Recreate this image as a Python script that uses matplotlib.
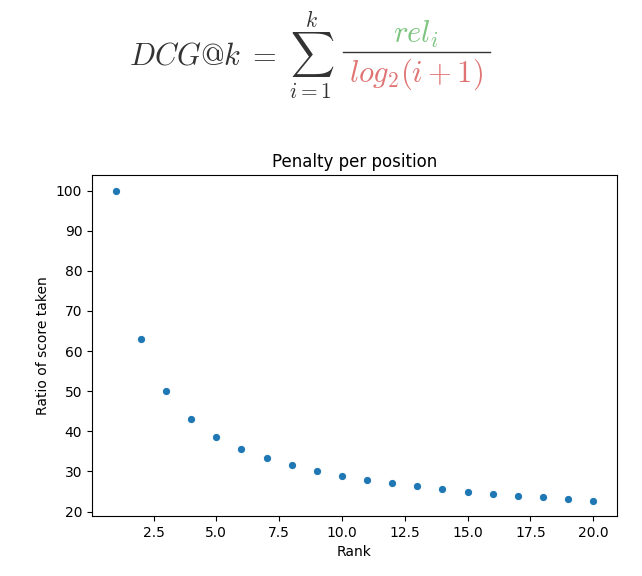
import matplotlib.pyplot as plt

plt.rcParams['mathtext.fontset'] = 'cm'

ranks = list(range(1, 21))
ratio = [100.0, 63.09, 50.0, 43.07, 38.69, 35.62, 33.33, 31.55, 30.10, 28.91,
         27.89, 27.02, 26.26, 25.59, 25.0, 24.46, 23.98, 23.54, 23.13, 22.76]

W, H = 642, 576
fig = plt.figure(figsize=(W / 100, H / 100), dpi=100)

# formula header (pixel positions converted to figure fraction)
def fx(x):
    return x / W

def fy(y):
    return 1 - y / H

dark = '#333333'
fig.text(fx(334), fy(55), r'$DCG@k\;=\;\sum_{i=1}^{k}$', fontsize=22, color=dark,
         ha='right', va='center')
fig.text(fx(416), fy(34), r'$rel_i$', fontsize=22, color='#7cc47f',
         ha='center', va='center')
fig.text(fx(416), fy(74), r'$log_2(i+1)$', fontsize=22, color='#e07474',
         ha='center', va='center')
fig.add_artist(plt.Line2D([fx(343), fx(490)], [fy(52), fy(52)], color=dark, lw=1))

ax = fig.add_axes([92 / W, 1 - 516 / H, (617 - 92) / W, (516 - 175) / H])
ax.scatter(ranks, ratio, s=36, color='#1f77b4', edgecolor='white', linewidth=0.75)
ax.set_title('Penalty per position')
ax.set_xlabel('Rank')
ax.set_ylabel('Ratio of score taken')

fig.savefig('out.png', dpi=100)
